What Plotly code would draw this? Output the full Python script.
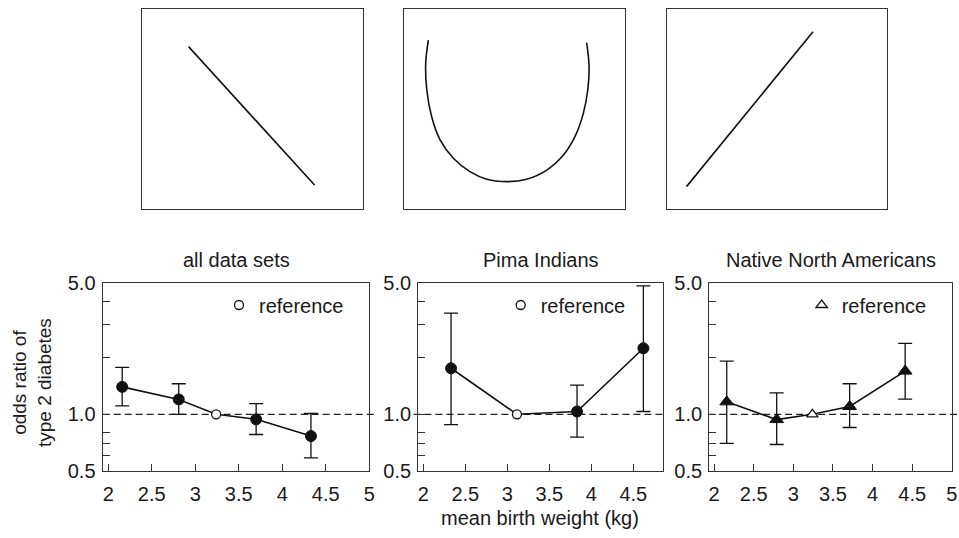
import math
import plotly.graph_objects as go

# ---------------- data ----------------
# all data sets
all_x = [2.16, 2.81, 3.24, 3.70, 4.33]
all_or = [1.40, 1.20, 1.00, 0.94, 0.765]
all_lo = [1.11, 1.00, 1.00, 0.78, 0.585]
all_hi = [1.78, 1.455, 1.00, 1.14, 1.01]
all_ref = 2

# Pima Indians
pima_x = [2.33, 3.115, 3.83, 4.62]
pima_or = [1.76, 1.00, 1.035, 2.25]
pima_lo = [0.88, 1.00, 0.755, 1.035]
pima_hi = [3.47, 1.00, 1.43, 4.84]
pima_ref = 1

# Native North Americans
nna_x = [2.16, 2.79, 3.24, 3.71, 4.41]
nna_or = [1.165, 0.937, 1.00, 1.10, 1.70]
nna_lo = [0.70, 0.69, 1.00, 0.85, 1.205]
nna_hi = [1.92, 1.30, 1.00, 1.455, 2.39]
nna_ref = 2

panel_titles = ["all data sets", "Pima Indians", "Native North Americans"]
x_ticks = [2, 2.5, 3, 3.5, 4, 4.5, 5]
x_tick_text = ["2", "2.5", "3", "3.5", "4", "4.5", "5"]
y_ticks = [0.5, 0.6, 0.7, 0.8, 1.0, 2, 3, 4, 5]
y_tick_text = ["0.5", "", "", "", "1.0", "", "", "", "5.0"]

# schematic shapes of the top row (unit box coordinates)
s1_u = [0.211, 0.782]
s1_v = [0.813, 0.120]
s2_u = [0.110, 0.098, 0.103, 0.125, 0.163, 0.223, 0.298, 0.374, 0.467,
        0.554, 0.645, 0.720, 0.772, 0.810, 0.830, 0.836, 0.825]
s2_v = [0.846, 0.730, 0.596, 0.462, 0.346, 0.254, 0.187, 0.149, 0.137,
        0.149, 0.195, 0.270, 0.362, 0.479, 0.596, 0.713, 0.833]
s3_u = [0.090, 0.663]
s3_v = [0.112, 0.888]

# ---------------- layout geometry ----------------
W, H = 959, 538
FONT = "Liberation Sans, Arial, Helvetica, sans-serif"
FS = 20
AX = "#333333"

def px_x(p):
    return p / W

def px_y(p):
    return (H - p) / H

bottom_x = [(102.7, 369.3), (418.3, 662.7), (709.3, 952.0)]
bottom_y = (283.3, 470.7)
bottom_xrange = [[1.936, 5.001], [1.94, 4.85], [1.94, 5.001]]
top_x = [(142.0, 362.7), (404.0, 625.4), (666.6, 887.4)]
top_y = (9.3, 209.0)

fig = go.Figure()

panels = [
    (all_x, all_or, all_lo, all_hi, all_ref, "circle"),
    (pima_x, pima_or, pima_lo, pima_hi, pima_ref, "circle"),
    (nna_x, nna_or, nna_lo, nna_hi, nna_ref, "triangle-up"),
]

layout = dict(
    template="none",
    width=W, height=H, autosize=False,
    margin=dict(l=0, r=0, t=0, b=0, pad=0, autoexpand=False),
    paper_bgcolor="white", plot_bgcolor="white",
    font=dict(family=FONT, size=FS, color="#1a1a1a"),
    showlegend=True,
)

annotations = []
shapes = []

for i, (xs, ys, lo, hi, ref, sym) in enumerate(panels):
    n = i + 1
    xa = "x" if n == 1 else f"x{n}"
    ya = "y" if n == 1 else f"y{n}"
    xkey = "xaxis" if n == 1 else f"xaxis{n}"
    ykey = "yaxis" if n == 1 else f"yaxis{n}"
    legend_key = "legend" if n == 1 else f"legend{n}"

    layout[xkey] = dict(
        domain=[px_x(bottom_x[i][0]), px_x(bottom_x[i][1])],
        anchor=ya, range=bottom_xrange[i], automargin=False,
        tickmode="array", tickvals=x_ticks, ticktext=x_tick_text,
        ticks="inside", ticklen=7, tickwidth=1.3, tickcolor=AX,
        showline=True, mirror=True, linecolor=AX, linewidth=1.3,
        showgrid=False, zeroline=False, ticklabelstandoff=5,
        ticklabeloverflow="allow", tickfont=dict(size=FS),
    )
    layout[ykey] = dict(
        domain=[px_y(bottom_y[1]), px_y(bottom_y[0])],
        anchor=xa, type="log", range=[math.log10(0.5), math.log10(5)], automargin=False,
        tickmode="array", tickvals=y_ticks, ticktext=y_tick_text,
        ticks="inside", ticklen=7, tickwidth=1.3, tickcolor=AX,
        showline=True, mirror=True, linecolor=AX, linewidth=1.3,
        showgrid=False, zeroline=False, ticklabelstandoff=2,
        ticklabeloverflow="allow", tickfont=dict(size=FS),
    )

    # dashed reference line at OR = 1
    ext = [(0, 1.03), (-0.02, 1.0), (-0.005, 1.03)][i]
    shapes.append(dict(type="line", xref=f"{xa} domain", yref=ya,
                       x0=ext[0], x1=ext[1], y0=1, y1=1,
                       line=dict(color="#222", width=1.2, dash="7px,4px"), layer="below"))

    # connecting line
    fig.add_trace(go.Scatter(x=xs, y=ys, mode="lines", xaxis=xa, yaxis=ya,
                             line=dict(color="#111", width=1.6), showlegend=False,
                             hoverinfo="skip"))
    # non-reference points with CI
    idx = [k for k in range(len(xs)) if k != ref]
    fig.add_trace(go.Scatter(
        x=[xs[k] for k in idx], y=[ys[k] for k in idx], mode="markers",
        xaxis=xa, yaxis=ya, showlegend=False,
        marker=dict(symbol=sym, size=11 if sym == "circle" else 12, color="#111",
                    line=dict(color="#111", width=1)),
        error_y=dict(type="data", symmetric=False,
                     array=[hi[k] - ys[k] for k in idx],
                     arrayminus=[ys[k] - lo[k] for k in idx],
                     color="#111", thickness=1.3, width=7),
    ))
    # reference category
    fig.add_trace(go.Scatter(
        x=[xs[ref]], y=[ys[ref]], mode="markers", xaxis=xa, yaxis=ya,
        name="reference", legend=legend_key, showlegend=True,
        marker=dict(symbol=sym, size=9 if sym == "circle" else 10, color="white",
                    line=dict(color="#111", width=1.3)),
    ))

    leg_x = [219, 500.7, 801.7][i]
    layout[legend_key] = dict(
        x=px_x(leg_x), y=px_y(305), xanchor="left", yanchor="middle",
        bgcolor="rgba(0,0,0,0)", borderwidth=0, font=dict(size=FS),
        itemwidth=30,
    )

    # panel title
    annotations.append(dict(
        text=panel_titles[i], xref="paper", yref="paper",
        x=px_x((bottom_x[i][0] + bottom_x[i][1]) / 2), y=px_y(260),
        xanchor="center", yanchor="middle", showarrow=False, font=dict(size=FS)))

# top schematic panels
schem = [(s1_u, s1_v, "linear"), (s2_u, s2_v, "spline"), (s3_u, s3_v, "linear")]
for j, (us, vs, shp) in enumerate(schem):
    n = 4 + j
    xa, ya = f"x{n}", f"y{n}"
    layout[f"xaxis{n}"] = dict(domain=[px_x(top_x[j][0]), px_x(top_x[j][1])], anchor=ya,
                               range=[0, 1], showline=True, mirror=True, linecolor=AX,
                               linewidth=1.3, showticklabels=False, ticks="",
                               showgrid=False, zeroline=False, automargin=False)
    layout[f"yaxis{n}"] = dict(domain=[px_y(top_y[1]), px_y(top_y[0])], anchor=xa,
                               range=[0, 1], showline=True, mirror=True, linecolor=AX,
                               linewidth=1.3, showticklabels=False, ticks="",
                               showgrid=False, zeroline=False, automargin=False)
    fig.add_trace(go.Scatter(x=us, y=vs, mode="lines", xaxis=xa, yaxis=ya,
                             line=dict(color="#111", width=1.6, shape=shp, smoothing=1.0),
                             showlegend=False, hoverinfo="skip"))

# axis titles
annotations.append(dict(text="mean birth weight (kg)", xref="paper", yref="paper",
                        x=px_x(540), y=px_y(518), xanchor="center", yanchor="middle",
                        showarrow=False, font=dict(size=FS)))
annotations.append(dict(text="odds ratio of<br>type 2 diabetes", xref="paper", yref="paper",
                        x=px_x(32), y=px_y(383), xanchor="center", yanchor="middle",
                        textangle=-90, showarrow=False, font=dict(size=19)))

layout["annotations"] = annotations
layout["shapes"] = shapes
fig.update_layout(**layout)

fig.write_html("out.html", config={"displayModeBar": False},
               post_script="document.body.style.margin='0';document.body.style.overflow='hidden';")
